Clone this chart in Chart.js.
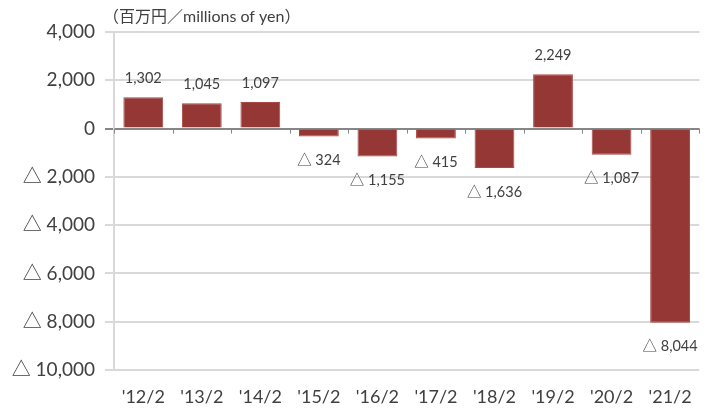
<!DOCTYPE html>
<html>
<head>
<meta charset="utf-8">
<script src="https://cdn.jsdelivr.net/npm/chart.js@4/dist/chart.umd.min.js"></script>
<style>
html,body{margin:0;padding:0;background:#fff;}
#wrap{width:708px;height:412px;position:relative;}
</style>
</head>
<body>
<div id="wrap"><canvas id="c" width="708" height="412"></canvas></div>
<script>
const categories = ["'12/2","'13/2","'14/2","'15/2","'16/2","'17/2","'18/2","'19/2","'20/2","'21/2"];
const values = [1302, 1045, 1097, -324, -1155, -415, -1636, 2249, -1087, -8044];
const yTicks = [4000, 2000, 0, -2000, -4000, -6000, -8000, -10000];
const unitTitle = "（百万円／millions of yen）";

const FONT = "Lato, 'Noto Sans CJK JP', sans-serif";
const TXT = '#404040';
function fmt(v){
  const s = Math.abs(v).toLocaleString('en-US');
  return v < 0 ? '△ ' + s : s;
}

const extras = {
  id: 'extras',
  afterDraw(chart){
    const ctx = chart.ctx;
    const ca = chart.chartArea;
    const ys = chart.scales.y;
    const y0 = ys.getPixelForValue(0);
    ctx.save();
    ctx.strokeStyle = '#868686';
    ctx.lineWidth = 1;
    for (let i = 0; i <= categories.length; i++) {
      const x = Math.round(ca.left + (ca.right - ca.left) * i / categories.length) + 0.5;
      ctx.beginPath(); ctx.moveTo(x, y0); ctx.lineTo(x, y0 + 5); ctx.stroke();
    }
    ctx.fillStyle = TXT;
    ctx.font = '14.5px ' + FONT;
    ctx.textAlign = 'center';
    ctx.textBaseline = 'middle';
    const meta = chart.getDatasetMeta(0);
    meta.data.forEach((bar, i) => {
      const v = values[i];
      const y = v >= 0 ? bar.y - 19 : bar.y + 24;
      ctx.fillText(fmt(v), bar.x, y);
    });
    ctx.font = '16px ' + FONT;
    ctx.textAlign = 'left';
    ctx.fillText(unitTitle, 103, 17);
    ctx.restore();
  }
};

new Chart(document.getElementById('c'), {
  type: 'bar',
  data: {
    labels: categories,
    datasets: [{
      data: values,
      backgroundColor: '#953735',
      borderColor: '#a94744',
      borderWidth: 1,
      categoryPercentage: 1,
      barPercentage: 0.68
    }]
  },
  options: {
    responsive: false,
    animation: false,
    events: [],
    layout: { padding: { top: 32, right: 7, left: 0, bottom: 0 } },
    plugins: { legend: { display: false }, tooltip: { enabled: false }, title: { display: false } },
    scales: {
      x: {
        grid: {
          drawTicks: false,
          offset: true,
          color: (c) => (c.index === categories.length ? '#d9d9d9' : 'rgba(0,0,0,0)'),
          lineWidth: 2
        },
        border: { display: false },
        ticks: { color: TXT, font: { family: FONT, size: 18 }, padding: 16, maxRotation: 0, autoSkip: false },
        afterFit(s){ s.height = 42; }
      },
      y: {
        min: -10000, max: 4000,
        afterBuildTicks(s){ s.ticks = yTicks.map(v => ({ value: v })); },
        grid: {
          color: (c) => (c.tick && c.tick.value === 0 ? '#868686' : '#d9d9d9'),
          lineWidth: 2,
          tickLength: 9,
          drawTicks: true
        },
        border: { display: true, color: '#d9d9d9', width: 2 },
        ticks: { color: TXT, font: { family: FONT, size: 19 }, padding: 10, callback: (v) => fmt(v) },
        afterFit(s){ s.width = 114; }
      }
    }
  },
  plugins: [extras]
});
</script>
</body>
</html>
